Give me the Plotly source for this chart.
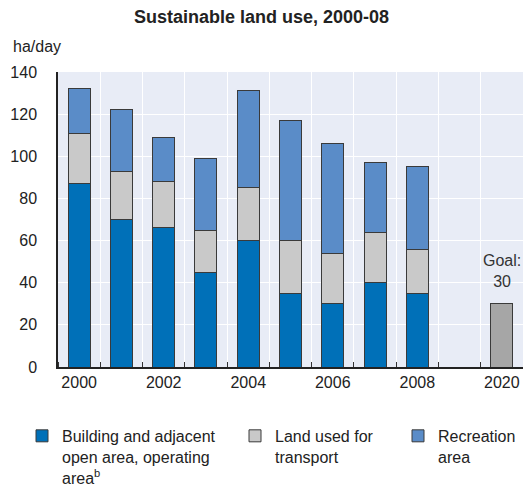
import plotly.graph_objects as go

years = ["2000", "2001", "2002", "2003", "2004", "2005", "2006", "2007", "2008", "", "2020"]
building = [87, 70, 66, 45, 60, 35, 30, 40, 35]
transport = [24, 23, 22, 20, 25, 25, 24, 24, 21]
recreation = [21, 29, 21, 34, 46, 57, 52, 33, 39]
goal_value = 30
tick_labels = ["2000", "2002", "2004", "2006", "2008", "2020"]

pos = list(range(len(years)))
hist_x = pos[:len(building)]
goal_x = pos[years.index("2020")]

FONT = "Liberation Sans, Arial, sans-serif"
TXT = "#222222"
edge = dict(color="#3a3a3a", width=1)

fig = go.Figure()
fig.add_trace(go.Bar(x=hist_x, y=building, legend="legend",
                     name="Building and adjacent<br>open area, operating<br>area<sup>b</sup>",
                     marker=dict(color="#0070b8", line=edge)))
fig.add_trace(go.Bar(x=hist_x, y=transport, legend="legend2",
                     name="Land used for<br>transport",
                     marker=dict(color="#c9c9c9", line=edge)))
fig.add_trace(go.Bar(x=hist_x, y=recreation, legend="legend3",
                     name="Recreation<br>area",
                     marker=dict(color="#5a8cc8", line=edge)))
fig.add_trace(go.Bar(x=[goal_x], y=[goal_value], showlegend=False,
                     marker=dict(color="#a6a6a6", line=edge)))

fig.add_annotation(x=goal_x, y=goal_value, text="Goal:<br>%d" % goal_value, showarrow=False,
                   yanchor="bottom", yshift=12, font=dict(size=16, color="#333333"))

leg = dict(orientation="v", yanchor="top", valign="top", bgcolor="rgba(0,0,0,0)",
           font=dict(size=16, color=TXT, family=FONT))

fig.update_layout(
    width=523, height=489,
    barmode="stack", bargap=0.48,
    paper_bgcolor="white", plot_bgcolor="#e8ecf6",
    margin=dict(l=58, r=0, t=72, b=122, autoexpand=False),
    font=dict(family=FONT, size=16, color=TXT),
    title=dict(text="<b>Sustainable land use, 2000-08</b>", x=0.5, xanchor="center",
               y=0.978, yanchor="top", font=dict(size=18, color=TXT)),
    showlegend=True,
    legend=dict(leg, x=(22 - 58) / 465, y=-0.176),
    legend2=dict(leg, x=(235 - 58) / 465, y=-0.176),
    legend3=dict(leg, x=(398 - 58) / 465, y=-0.176),
    xaxis=dict(range=[-0.5, 10.5], tickmode="array",
               tickvals=[pos[years.index(t)] for t in tick_labels], ticktext=tick_labels,
               showgrid=False, showline=True, linecolor=TXT, linewidth=1.5,
               ticks="", zeroline=False,
               minor=dict(tick0=0.5, dtick=1, showgrid=True, gridcolor="white", gridwidth=1,
                          ticks="inside", ticklen=5, tickcolor="#333333")),
    yaxis=dict(range=[0, 140], dtick=20, showgrid=True, gridcolor="white", gridwidth=1,
               showline=True, linecolor=TXT, linewidth=1.5, zeroline=False,
               ticks="", ticklabelstandoff=16),
)
fig.add_annotation(text="ha/day", xref="paper", yref="paper", x=(11 - 58) / 465, y=1.05,
                   xanchor="left", yanchor="bottom", showarrow=False,
                   font=dict(size=16, color=TXT))

fig.write_html("out.html")
